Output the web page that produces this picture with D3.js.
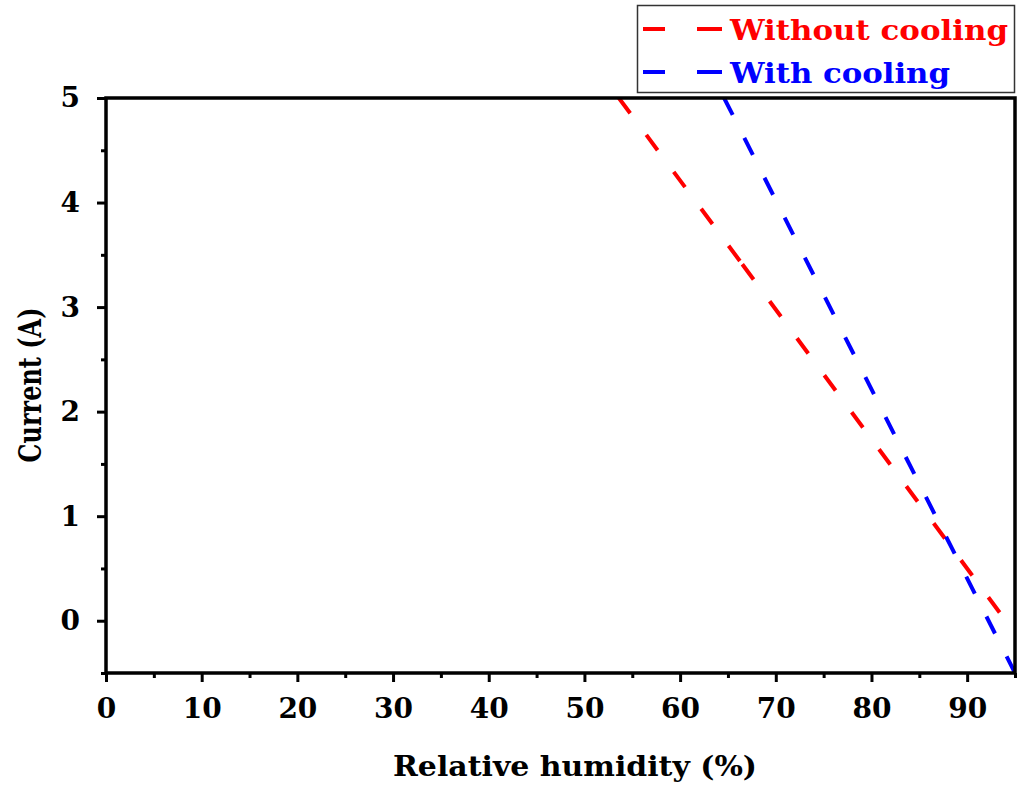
<!DOCTYPE html>
<html>
<head>
<meta charset="utf-8">
<script src="https://cdn.jsdelivr.net/npm/d3@7"></script>
<style>
  html, body { margin: 0; padding: 0; background: #fff; }
  svg { display: block; }
  text { font-family: "DejaVu Serif", serif; font-weight: bold; }
</style>
</head>
<body>
<svg id="chart" width="1019" height="785"></svg>
<script>
// ---- data ----
const seriesNames = ["Without cooling", "With cooling"];
const seriesColors = ["#ff0000", "#0000ff"];
const humidityWithout = [53.6, 66.5, 95.0];
const currentWithout  = [5.0, 3.41, -0.12];
const humidityWith    = [64.6, 95.0];
const currentWith     = [5.0, -0.5];
const xTicks = [0, 10, 20, 30, 40, 50, 60, 70, 80, 90];
const xMinorTicks = [5, 15, 25, 35, 45, 55, 65, 75, 85, 95];
const yTicks = [0, 1, 2, 3, 4, 5];
const yMinorTicks = [-0.5, 0.5, 1.5, 2.5, 3.5, 4.5];
const xTitle = "Relative humidity (%)";
const yTitle = "Current (A)";

const svg = d3.select("#chart");
const L = 106, R = 1015, T = 98, B = 673;
const x = d3.scaleLinear().domain([0, 95]).range([L, R]);
const y = d3.scaleLinear().domain([-0.5, 5]).range([B, T]);

// clip
svg.append("defs").append("clipPath").attr("id", "clip")
  .append("rect").attr("x", L).attr("y", T).attr("width", R - L).attr("height", B - T);

// series (each segment drawn separately so the dash restarts at vertices)
const series = [
  { xs: humidityWithout, ys: currentWithout, color: seriesColors[0], dash: "19,27" },
  { xs: humidityWith, ys: currentWith, color: seriesColors[1], dash: "19,25.7" }
];
const gLines = svg.append("g").attr("clip-path", "url(#clip)");
const line = d3.line().x(d => x(d[0])).y(d => y(d[1]));
series.forEach(s => {
  const pts = s.xs.map((v, i) => [v, s.ys[i]]);
  for (let i = 0; i < pts.length - 1; i++) {
    gLines.append("path")
      .attr("d", line([pts[i], pts[i + 1]]))
      .attr("fill", "none")
      .attr("stroke", s.color)
      .attr("stroke-width", 4)
      .attr("stroke-dasharray", s.dash);
  }
});

// axes
const xAxis = svg.append("g").attr("transform", `translate(0,${B})`)
  .call(d3.axisBottom(x).tickValues(xTicks).tickSize(9).tickPadding(16).tickFormat(d3.format("d")));
const xMinor = svg.append("g").attr("transform", `translate(0,${B})`)
  .call(d3.axisBottom(x).tickValues(xMinorTicks).tickSize(5).tickFormat(""));
const yAxis = svg.append("g").attr("transform", `translate(${L},0)`)
  .call(d3.axisLeft(y).tickValues(yTicks).tickSize(9).tickPadding(17).tickFormat(d3.format("d")));
const yMinor = svg.append("g").attr("transform", `translate(${L},0)`)
  .call(d3.axisLeft(y).tickValues(yMinorTicks).tickSize(5).tickFormat(""));

[xAxis, xMinor, yAxis, yMinor].forEach(g => {
  g.select(".domain").remove();
  g.selectAll(".tick line").attr("stroke", "#000").attr("stroke-width", 3);
  g.selectAll(".tick text").attr("fill", "#000").attr("font-size", 28)
    .attr("font-family", "DejaVu Serif").attr("font-weight", "bold");
});
xAxis.selectAll(".tick text").attr("dy", "0.71em");

// frame
svg.append("rect").attr("x", L).attr("y", T).attr("width", R - L).attr("height", B - T)
  .attr("fill", "none").attr("stroke", "#000").attr("stroke-width", 3.5);

// titles
svg.append("text")
  .attr("x", 575).attr("y", 776)
  .attr("text-anchor", "middle")
  .attr("font-size", 27)
  .attr("textLength", 364).attr("lengthAdjust", "spacingAndGlyphs")
  .text(xTitle);
svg.append("text")
  .attr("transform", "translate(41,385) rotate(-90)")
  .attr("text-anchor", "middle")
  .attr("font-size", 31)
  .attr("textLength", 155).attr("lengthAdjust", "spacingAndGlyphs")
  .text(yTitle);

// legend
const lg = svg.append("g");
lg.append("rect").attr("x", 637.5).attr("y", 5.5).attr("width", 377).attr("height", 87)
  .attr("fill", "#fff").attr("stroke", "#333").attr("stroke-width", 1.5);
const legendRows = [29, 72];
const legendWidths = [278, 220];
seriesNames.forEach((name, i) => {
  const yy = legendRows[i];
  lg.append("line").attr("x1", 643).attr("x2", 665).attr("y1", yy).attr("y2", yy)
    .attr("stroke", seriesColors[i]).attr("stroke-width", 4);
  lg.append("line").attr("x1", 697).attr("x2", 722).attr("y1", yy).attr("y2", yy)
    .attr("stroke", seriesColors[i]).attr("stroke-width", 4);
  lg.append("text").attr("x", 730).attr("y", yy + 11)
    .attr("font-size", 28).attr("fill", seriesColors[i])
    .attr("textLength", legendWidths[i]).attr("lengthAdjust", "spacingAndGlyphs")
    .text(name);
});
</script>
</body>
</html>
